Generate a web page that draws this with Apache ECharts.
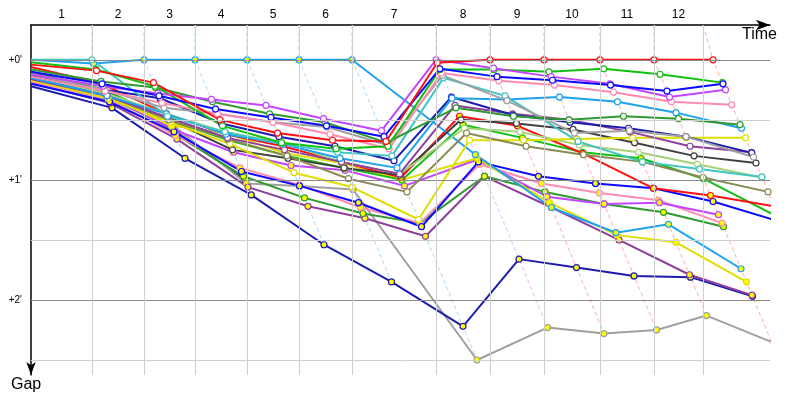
<!DOCTYPE html>
<html><head><meta charset="utf-8">
<script src="https://cdn.jsdelivr.net/npm/echarts@6/dist/echarts.min.js"></script>
<style>html,body{margin:0;background:#fff}#c{width:800px;height:400px}</style>
</head><body><div id="c"></div>
<script>
// Leader crossing times (minutes) for laps 1..12, and top-of-chart lap marks
const lapTimes = [1.22, 2.26, 3.28, 4.32, 5.36, 6.42, 8.10, 9.18, 10.26, 11.38, 12.46, 13.64];
const lapGrid  = [1.22, 2.26, 3.28, 4.32, 5.36, 6.42, 8.10, 9.18, 10.26, 11.38, 12.46, 13.44];
const lapLabels = ['1','2','3','4','5','6','7','8','9','10','11','12'];
const gapTicks = [0, 1, 2];
const gapTickLabels = ["+0'", "+1'", "+2'"];

// Gap to leader (minutes) at lap 0..12 for each car
const red1       = [0.04, 0.09, 0.19, 0.50, 0.61, 0.67, 0.68, 0.025, 0, 0, 0, 0, 0];
const green1     = [0.02, 0.08, 0.22, 0.55, 0.69, 0.74, 0.72, 0.08, 0.08, 0.10, 0.075, 0.12, 0.19];
const dgreen1    = [0.08, 0.18, 0.23, 0.35, 0.45, 0.52, 0.69, 0.40, 0.47, 0.50, 0.47, 0.49, 0.54];
const blue1      = [0.10, 0.20, 0.30, 0.41, 0.48, 0.55, 0.64, 0.075, 0.14, 0.17, 0.21, 0.26, 0.20];
const violet1    = [0.12, 0.22, 0.28, 0.33, 0.38, 0.49, 0.59, 0, 0.07, 0.14, 0.20, 0.31, 0.25];
const pink1      = [0.14, 0.26, 0.36, 0.45, 0.52, 0.62, 0.74, 0.11, 0.175, 0.21, 0.27, 0.35, 0.375];
const gray1      = [0.12, 0.25, 0.40, 0.45, 0.52, 0.56, 0.71, 0.13, 0.34, 0.61, 0.59, 0.64, 0.81];
const teal1      = [0.00, 0.00, 0.47, 0.60, 0.70, 0.77, 0.80, 0.15, 0.30, 0.68, 0.85, 0.91, 0.975];
const lblue1     = [0.15, 0.30, 0.45, 0.62, 0.70, 0.82, 0.90, 0.32, 0.33, 0.31, 0.35, 0.44, 0.57];
const navy1      = [0.13, 0.25, 0.32, 0.53, 0.64, 0.72, 0.84, 0.31, 0.46, 0.52, 0.57, 0.64, 0.775];
const purple1    = [0.16, 0.30, 0.48, 0.65, 0.75, 0.85, 0.95, 0.38, 0.45, 0.50, 0.60, 0.72, 0.77];
const olive1     = [0.15, 0.30, 0.50, 0.66, 0.80, 0.99, 1.10, 0.61, 0.72, 0.79, 0.85, 0.98, 1.10];
const yellow1    = [0.17, 0.32, 0.52, 0.70, 0.94, 1.06, 1.33, 0.67, 0.67, 0.66, 0.65, 0.65, 0.65];
const lgreen1    = [0.14, 0.28, 0.45, 0.60, 0.69, 0.85, 0.95, 0.57, 0.60, 0.71, 0.77, 0.87, 0.98];
const dgray1     = [0.13, 0.27, 0.50, 0.75, 0.82, 0.90, 0.96, 0.50, 0.53, 0.58, 0.69, 0.80, 0.86];
const red2       = [0.06, 0.20, 0.45, 0.62, 0.72, 0.85, 0.98, 0.47, 0.55, 0.78, 1.07, 1.13, 1.22];
const green2     = [0.10, 0.25, 0.50, 0.67, 0.80, 0.90, 1.00, 0.54, 0.65, 0.77, 0.82, 0.99, 1.31];
const blue2      = [0.20, 0.35, 0.60, 0.93, 1.05, 1.19, 1.39, 0.85, 0.97, 1.03, 1.07, 1.18, 1.35];
const violet2    = [0.15, 0.30, 0.58, 0.77, 0.88, 0.92, 1.05, 0.83, 1.14, 1.20, 1.19, 1.29];
const pink2      = [0.18, 0.33, 0.63, 0.90, 1.04, 1.23, 1.36, 0.87, 1.03, 1.11, 1.17, 1.36];
const dgreen2    = [0.17, 0.33, 0.62, 0.97, 1.15, 1.28, 1.36, 0.97, 1.10, 1.20, 1.27, 1.39];
const purple2    = [0.19, 0.36, 0.66, 1.06, 1.22, 1.32, 1.47, 0.97, 1.23, 1.50, 1.79, 1.96];
const navy2      = [0.22, 0.40, 0.82, 1.125, 1.54, 1.85, 2.22, 1.66, 1.73, 1.80, 1.81, 1.97];
const gray2      = [0.12, 0.28, 0.53, 1.03, 1.05, 1.08, 2.50, 2.23, 2.28, 2.25, 2.13, 2.35];
const lblue2     = [0.00, 0.03, 0, 0, 0, 0, 0, 0.79, 1.23, 1.44, 1.37, 1.74];
const yellow2    = [0.16, 0.30, 0.55, 0.61, 0.78, 0.86, 1.00, 0.82, 1.19, 1.46, 1.52, 1.85];
const dgray2     = [0.13, 0.30, 0.58, 1.00];

const W = '#ffffff', Y = '#ffff00';
const cars = [
  [dgray2, '#404040', Y], [gray2, '#a0a0a0', Y], [navy2, '#1c1cb0', Y], [purple2, '#8e3f9e', Y],
  [dgreen2, '#2f9a2f', Y], [pink2, '#ff8cb0', Y], [violet2, '#c445ff', Y], [blue2, '#0a0aff', Y],
  [yellow2, '#dede00', Y], [green2, '#10c010', Y], [red2, '#ff1010', Y], [lblue2, '#1ea2f2', Y],
  [dgray1, '#404040', W], [lgreen1, '#a8d27a', W], [yellow1, '#dede00', W], [olive1, '#8a8a52', W],
  [purple1, '#8e3f9e', W], [navy1, '#1c1cb0', W], [lblue1, '#1ea2f2', W], [teal1, '#40c4c4', W],
  [gray1, '#a0a0a0', W], [pink1, '#ff8cb0', W], [dgreen1, '#2f9a2f', W], [green1, '#10c010', W],
  [violet1, '#c445ff', W], [blue1, '#0a0aff', W], [red1, '#ff1010', W]
];
const lapLineColors = ['#a6d8f8','#a6d8f8','#a6d8f8','#a6d8f8','#a6d8f8','#a6d8f8','#ebb8ff',
                       '#ffaaaa','#ffaaaa','#ffaaaa','#ffaaaa','#ffaaaa'];

const yMin = -0.29, yMax = 2.625, xMax = 14.78;
const lapMids = lapGrid.map((t, i) => ((i === 0 ? 0 : lapGrid[i - 1]) + t) / 2);

const series = [];
// grid lines
const ml = [];
[0.5, 1.5, 2.5].forEach(v => ml.push({ yAxis: v, lineStyle: { color: '#cfcfcf', width: 1, type: 'solid' } }));
[0, 1, 2].forEach(v => ml.push({ yAxis: v, lineStyle: { color: '#8a8a8a', width: 1, type: 'solid' } }));
lapGrid.forEach(v => ml.push({ xAxis: v, lineStyle: { color: '#cfcfcf', width: 1, type: 'solid' } }));
series.push({ type: 'line', data: [], z: 1, silent: true,
  markLine: { silent: true, symbol: 'none', label: { show: false }, animation: false, data: ml } });

// lap lines
lapTimes.forEach((t, i) => {
  let gmax = 0;
  cars.forEach(c => { if (c[0][i + 1] != null && c[0][i + 1] > gmax) gmax = c[0][i + 1]; });
  series.push({ type: 'line', z: 2, silent: true, symbol: 'none',
    lineStyle: { color: lapLineColors[i], width: 1, type: [4, 3] },
    data: [[lapGrid[i], yMin], [t, 0], [t + gmax, gmax]] });
});

// cars
cars.forEach(([g, col, fill]) => {
  const data = g.map((v, lap) => lap === 0 ? { value: [0, v], symbol: 'none' } : [lapTimes[lap - 1] + v, v]);
  series.push({ type: 'line', z: 3, data, symbol: 'circle', symbolSize: 6, showAllSymbol: true,
    lineStyle: { color: col, width: 2 },
    itemStyle: { color: fill, borderColor: col, borderWidth: 1.2 } });
});

const chart = echarts.init(document.getElementById('c'));
chart.setOption({
  animation: false,
  backgroundColor: '#fff',
  grid: { left: 31, right: 30, top: 25, bottom: 25 },
  xAxis: { type: 'value', position: 'top', min: 0, max: xMax,
    axisLine: { show: true, onZero: false, lineStyle: { color: '#000', width: 1.5 }, symbol: ['none', 'arrow'], symbolSize: [8, 14] },
    axisTick: { show: false }, splitLine: { show: false },
    axisLabel: { customValues: lapMids, color: '#000', fontSize: 12, margin: 4, fontFamily: 'Liberation Sans',
      formatter: (v) => { let k = 0, d = 1e9; lapMids.forEach((m, i) => { if (Math.abs(m - v) < d) { d = Math.abs(m - v); k = i; } }); return lapLabels[k]; } } },
  yAxis: { type: 'value', inverse: true, min: yMin, max: yMax,
    axisLine: { show: true, onZero: false, lineStyle: { color: '#000', width: 1.5 }, symbol: ['arrow', 'none'], symbolSize: [7, 13] },
    axisTick: { show: false }, splitLine: { show: false },
    axisLabel: { customValues: gapTicks, color: '#000', fontSize: 10, margin: 9, fontFamily: 'Liberation Sans',
      formatter: (v) => gapTickLabels[gapTicks.indexOf(Math.round(v))] } },
  graphic: [
    { type: 'text', right: 23, top: 27, style: { text: 'Time', font: '16px Liberation Sans', fill: '#000' } },
    { type: 'text', left: 11, top: 377, style: { text: 'Gap', font: '16px Liberation Sans', fill: '#000' } }
  ],
  series
});
</script></body></html>
